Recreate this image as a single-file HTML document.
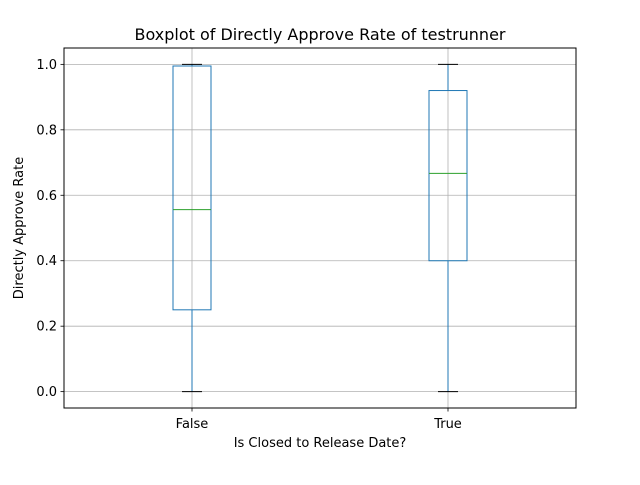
<!DOCTYPE html>
<html><head><meta charset="utf-8"><style>
body{margin:0;background:#fff;font-family:"Liberation Sans","DejaVu Sans",sans-serif}
</style></head><body>
<svg id="chart" width="640" height="480" xmlns="http://www.w3.org/2000/svg" font-family="DejaVu Sans, Liberation Sans, sans-serif">
<rect width="640" height="480" fill="#fff"/>
<g id="grid"></g>
<g id="boxes"></g>
<rect x="64" y="48" width="512" height="360" fill="none" stroke="#000" stroke-width="1"/>
<g id="ticks"></g>
<text x="320" y="40" text-anchor="middle" font-size="16">Boxplot of Directly Approve Rate of testrunner</text>
<text x="320" y="447" text-anchor="middle" font-size="13">Is Closed to Release Date?</text>
<text transform="translate(23,228) rotate(-90)" text-anchor="middle" font-size="13">Directly Approve Rate</text>
</svg>
<script>
const categories=["False","True"];
const whiskerLow=[0,0];
const q1=[0.25,0.4];
const medians=[0.556,0.667];
const q3=[0.995,0.92];
const whiskerHigh=[1,1];
const yTicks=[0,0.2,0.4,0.6,0.8,1.0];
const yTickLabels=["0.0","0.2","0.4","0.6","0.8","1.0"];
const NS="http://www.w3.org/2000/svg";
const L=64,R=576,T=48,B=408,ymin=-0.05,ymax=1.05;
const y=v=>B-(v-ymin)/(ymax-ymin)*(B-T);
const x=i=>L+(i+1-0.5)/categories.length*(R-L);
function mk(tag,attrs,parent){const e=document.createElementNS(NS,tag);for(const k in attrs)e.setAttribute(k,attrs[k]);parent.appendChild(e);return e;}
const grid=document.getElementById('grid'),ticks=document.getElementById('ticks'),boxes=document.getElementById('boxes');
yTicks.forEach((t,i)=>{
 const g=mk('line',{x1:L,x2:R,y1:y(t),y2:y(t),stroke:'#b0b0b0','stroke-width':0.8},grid);
 
 
 mk('line',{x1:L-3.5,x2:L,y1:y(t),y2:y(t),stroke:'#000','stroke-width':0.8},ticks);
 const tx=mk('text',{x:L-7,y:y(t)+4.5,'text-anchor':'end','font-size':13},ticks);
 tx.textContent=yTickLabels[i];
 
 
});
categories.forEach((c,i)=>{
 const cx=x(i);
 const g=mk('line',{x1:cx,x2:cx,y1:T,y2:B,stroke:'#b0b0b0','stroke-width':0.8},grid);
 
 
 mk('line',{x1:cx,x2:cx,y1:B,y2:B+3.5,stroke:'#000','stroke-width':0.8},ticks);
 const tx=mk('text',{x:cx,y:B+20,'text-anchor':'middle','font-size':13},ticks);
 tx.textContent=c;
 
 
 const grp=mk('g',{},boxes);
 
 
 const hw=19,cw=10,blue='#1f77b4';
 mk('line',{x1:cx,x2:cx,y1:y(q1[i]),y2:y(whiskerLow[i]),stroke:blue},grp);
 mk('line',{x1:cx,x2:cx,y1:y(q3[i]),y2:y(whiskerHigh[i]),stroke:blue},grp);
 mk('line',{x1:cx-cw,x2:cx+cw,y1:y(whiskerLow[i]),y2:y(whiskerLow[i]),stroke:'#000'},grp);
 mk('line',{x1:cx-cw,x2:cx+cw,y1:y(whiskerHigh[i]),y2:y(whiskerHigh[i]),stroke:'#000'},grp);
 mk('rect',{x:cx-hw,y:y(q3[i]),width:2*hw,height:y(q1[i])-y(q3[i]),fill:'none',stroke:blue},grp);
 mk('line',{x1:cx-hw,x2:cx+hw,y1:y(medians[i]),y2:y(medians[i]),stroke:'#2ca02c'},grp);
});
</script>
</body></html>
